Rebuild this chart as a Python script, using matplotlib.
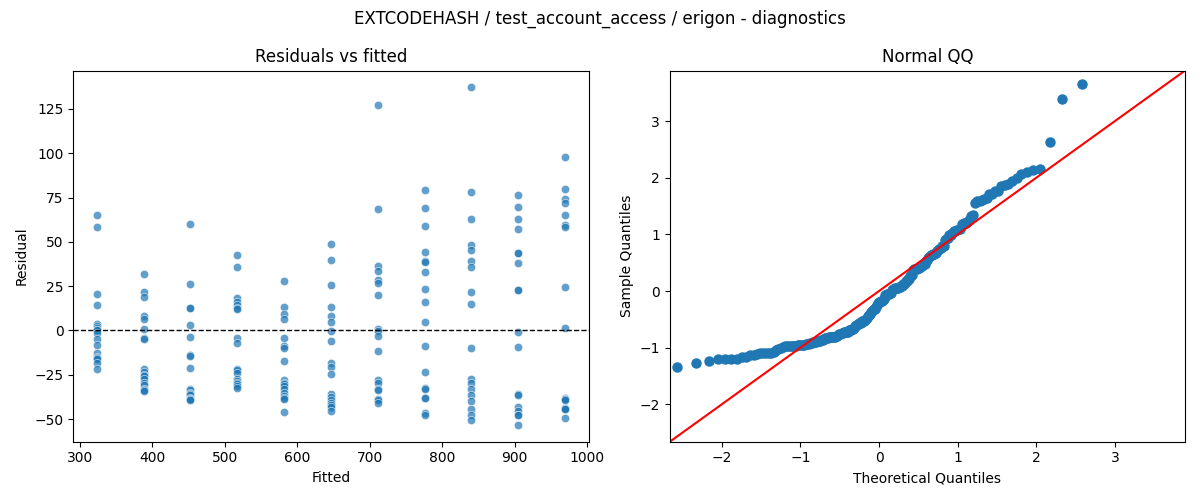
import numpy as np
import matplotlib
matplotlib.use("Agg")
import matplotlib.pyplot as plt
import seaborn as sns
from statistics import NormalDist

# Fitted levels (11 groups, 18 observations each)
fitted_levels = [323.5, 388.1, 452.7, 517.3, 581.9, 646.5, 711.1, 775.7, 840.3, 904.9, 969.5]

resid_g1 = [65.1, 58.5, 20.6, 14.4, 3.4, 2.4, 1.3, 0.2, 0.0, -1.3, -4.7, -8.4, -12.6, -15.0, -15.4, -16.0, -18.2, -22.0]
resid_g2 = [31.9, 21.8, 18.9, 8.4, 6.2, 0.9, -4.3, -5.1, -22.0, -23.5, -25.3, -25.8, -27.6, -29.5, -31.0, -33.2, -33.5, -34.1]
resid_g3 = [60.2, 26.3, 12.8, 12.6, 2.8, -3.6, -14.0, -14.2, -21.0, -32.8, -33.8, -35.1, -36.0, -36.5, -37.9, -38.5, -38.6, -39.2]
resid_g4 = [42.8, 35.8, 18.2, 16.3, 14.3, 12.6, 12.2, -4.1, -7.3, -21.8, -22.2, -23.8, -27.2, -28.5, -29.5, -30.4, -31.5, -32.3]
resid_g5 = [28.1, 13.3, 9.0, 6.2, -4.1, -8.8, -10.1, -17.3, -28.1, -29.5, -30.4, -31.3, -33.2, -35.1, -37.0, -37.9, -38.8, -46.3]
resid_g6 = [48.8, 39.8, 25.7, 13.3, 8.3, 4.9, -0.4, -6.0, -18.6, -20.5, -24.8, -36.0, -37.3, -39.2, -40.7, -42.0, -43.5, -45.4]
resid_g7 = [127.0, 68.5, 36.6, 33.4, 28.3, 26.8, 20.1, 0.9, -0.4, -3.2, -11.6, -28.1, -29.5, -33.2, -33.4, -38.8, -39.2, -41.1]
resid_g8 = [79.4, 69.0, 58.9, 44.3, 39.4, 38.5, 33.0, 23.5, 16.1, 4.9, -8.6, -23.3, -32.6, -33.0, -37.9, -38.2, -46.7, -47.8]
resid_g9 = [137.1, 78.0, 62.9, 48.4, 45.4, 39.2, 35.6, 21.8, 15.0, -9.8, -27.6, -29.5, -32.8, -36.6, -39.8, -44.1, -47.8, -50.5]
resid_g10 = [76.5, 69.6, 62.9, 57.2, 43.9, 43.7, 38.1, 23.0, 22.7, -0.8, -9.2, -36.0, -36.2, -43.0, -45.4, -47.6, -48.0, -53.3]
resid_g11 = [97.9, 79.7, 74.1, 71.9, 65.1, 59.7, 58.3, 24.6, 1.1, -38.3, -38.5, -38.9, -39.2, -43.8, -43.9, -44.1, -44.3, -49.2]

groups = [resid_g1, resid_g2, resid_g3, resid_g4, resid_g5, resid_g6,
          resid_g7, resid_g8, resid_g9, resid_g10, resid_g11]

fitted = np.concatenate([[f] * len(g) for f, g in zip(fitted_levels, groups)])
resid = np.concatenate([np.array(g, dtype=float) for g in groups])

# QQ data (standardized residuals vs normal quantiles)
n = len(resid)
nd = NormalDist()
theo = np.array([nd.inv_cdf(i / (n + 1)) for i in range(1, n + 1)])
sample = np.sort((resid - resid.mean()) / resid.std())

fig, axes = plt.subplots(1, 2, figsize=(12, 5), dpi=100)
fig.suptitle("EXTCODEHASH / test_account_access / erigon - diagnostics")

ax = axes[0]
sns.scatterplot(x=fitted, y=resid, ax=ax, alpha=0.7)
ax.axhline(0, color="black", linestyle="--", linewidth=1)
ax.set_title("Residuals vs fitted")
ax.set_xlabel("Fitted")
ax.set_ylabel("Residual")

ax = axes[1]
ax.plot(theo, sample, "o", color="C0", markersize=6.5)
lo, hi = -2.66, 3.89
ax.plot([lo, hi], [lo, hi], color="red")
ax.set_xlim(lo, hi)
ax.set_ylim(lo, hi)
ax.set_title("Normal QQ")
ax.set_xlabel("Theoretical Quantiles")
ax.set_ylabel("Sample Quantiles")

fig.tight_layout()
fig.savefig("out.png")
